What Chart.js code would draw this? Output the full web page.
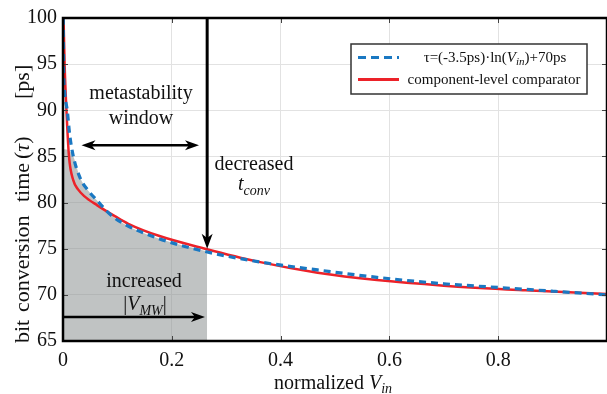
<!DOCTYPE html>
<html>
<head>
<meta charset="utf-8">
<script src="https://cdn.jsdelivr.net/npm/chart.js@4/dist/chart.umd.min.js"></script>
<style>
  html, body { margin: 0; padding: 0; background: #fff; overflow: hidden; }
  #wrap { width: 607px; height: 394px; overflow: hidden; }
</style>
</head>
<body>
<div id="wrap"><canvas id="c" width="615" height="394"></canvas></div>
<script>
// --- data (normalized Vin -> tau in ps) ---
const fitV = [0.0005, 0.001, 0.003, 0.008, 0.012, 0.019, 0.032, 0.045, 0.063, 0.087, 0.115, 0.176, 0.261, 0.358, 0.468, 0.577, 0.7, 0.8, 0.9, 1.0];
const fitT = [100, 95, 92, 89.9, 87.5, 85, 82.6, 81.4, 80.2, 78.7, 77.6, 76.1, 74.7, 73.6, 72.7, 71.9, 71.2, 70.8, 70.4, 70.0];

const compV = [0.001, 0.003, 0.0064, 0.011, 0.019, 0.028, 0.039, 0.063, 0.096, 0.12, 0.176, 0.261, 0.358, 0.468, 0.577, 0.7, 0.85, 1.0];
const compT = [100, 94.9, 89.9, 85, 82.4, 81.4, 80.7, 79.7, 78.5, 77.7, 76.4, 75.0, 73.6, 72.4, 71.6, 71.0, 70.5, 70.1];

// shaded metastability window (upper edge)
const winV = [0, 0.012, 0.019, 0.032, 0.045, 0.063, 0.087, 0.115, 0.176, 0.265];
const winT = [85.8, 85.6, 85, 82.6, 81.4, 80.2, 78.7, 77.6, 76.1, 74.7];

const xTicks = [0, 0.2, 0.4, 0.6, 0.8];
const yTicks = [65, 70, 75, 80, 85, 90, 95, 100];

// annotation anchors (data units)
const tconvArrow = { x: 0.265, from: 100, to: 75.0 };
const windowArrow = { x1: 0.034, x2: 0.250, y: 86.2 };
const mwArrow = { x1: 0, x2: 0.261, y: 67.6 };

const pts = (xs, ys) => xs.map((x, i) => ({ x, y: ys[i] }));
const SERIF = '"Liberation Serif", "Times New Roman", serif';
const BLUE = '#1a78c2', RED = '#ec2229';

// draw a line of mixed-style text runs
function runs(ctx, list, x, y, align) {
  let w = 0;
  list.forEach((r) => { ctx.font = r.f; r.w = ctx.measureText(r.t).width; w += r.w; });
  let cx = align === 'center' ? x - w / 2 : x;
  ctx.textAlign = 'left'; ctx.textBaseline = 'alphabetic';
  list.forEach((r) => { ctx.font = r.f; ctx.fillText(r.t, cx, y + (r.dy || 0)); cx += r.w; });
}
function head(ctx, x, y, ang, len, half) {
  ctx.save(); ctx.translate(x, y); ctx.rotate(ang);
  ctx.beginPath(); ctx.moveTo(0, 0); ctx.lineTo(-len, -half); ctx.lineTo(-len * 0.72, 0); ctx.lineTo(-len, half);
  ctx.closePath(); ctx.fill(); ctx.restore();
}

const decor = {
  id: 'decor',
  afterDraw(chart) {
    const { ctx, chartArea: a, scales: { x, y } } = chart;
    ctx.save();
    // inner ticks
    ctx.strokeStyle = '#444'; ctx.lineWidth = 1;
    ctx.beginPath();
    xTicks.forEach((v) => { const px = Math.round(x.getPixelForValue(v)) + 0.5;
      ctx.moveTo(px, a.bottom); ctx.lineTo(px, a.bottom - 5); ctx.moveTo(px, a.top); ctx.lineTo(px, a.top + 5); });
    yTicks.forEach((v) => { const py = Math.round(y.getPixelForValue(v)) + 0.5;
      ctx.moveTo(a.left, py); ctx.lineTo(a.left + 5, py); ctx.moveTo(a.right, py); ctx.lineTo(a.right - 5, py); });
    ctx.stroke();
    // frame
    ctx.strokeStyle = '#000'; ctx.lineWidth = 2.5;
    ctx.strokeRect(a.left, a.top, a.right - a.left, a.bottom - a.top);

    // arrows
    ctx.fillStyle = '#000'; ctx.strokeStyle = '#000';
    const vx = x.getPixelForValue(tconvArrow.x), vy1 = y.getPixelForValue(tconvArrow.from), vy2 = y.getPixelForValue(tconvArrow.to);
    ctx.lineWidth = 3;
    ctx.beginPath(); ctx.moveTo(vx, vy1); ctx.lineTo(vx, vy2 - 8); ctx.stroke();
    head(ctx, vx, vy2, Math.PI / 2, 15, 5.5);

    ctx.lineWidth = 2.5;
    const wx1 = x.getPixelForValue(windowArrow.x1), wx2 = x.getPixelForValue(windowArrow.x2), wy = y.getPixelForValue(windowArrow.y);
    ctx.beginPath(); ctx.moveTo(wx1 + 8, wy); ctx.lineTo(wx2 - 8, wy); ctx.stroke();
    head(ctx, wx2, wy, 0, 14, 5); head(ctx, wx1, wy, Math.PI, 14, 5);

    const mx1 = x.getPixelForValue(mwArrow.x1), mx2 = x.getPixelForValue(mwArrow.x2), my = y.getPixelForValue(mwArrow.y);
    ctx.beginPath(); ctx.moveTo(mx1, my); ctx.lineTo(mx2 - 8, my); ctx.stroke();
    head(ctx, mx2, my, 0, 14, 5);

    // annotation texts
    ctx.fillStyle = '#111';
    const f20 = '20px ' + SERIF, i20 = 'italic 20px ' + SERIF, i13 = 'italic 14px ' + SERIF;
    runs(ctx, [{ t: 'metastability', f: f20 }], 141, 99, 'center');
    runs(ctx, [{ t: 'window', f: f20 }], 141, 124, 'center');
    runs(ctx, [{ t: 'decreased', f: f20 }], 254, 170, 'center');
    runs(ctx, [{ t: 't', f: i20 }, { t: 'conv', f: i13, dy: 5 }], 238, 190, 'left');
    runs(ctx, [{ t: 'increased', f: f20 }], 144, 287, 'center');
    runs(ctx, [{ t: '|', f: f20 }, { t: 'V', f: i20 }, { t: 'MW', f: i13, dy: 5 }, { t: '|', f: f20 }], 145, 310, 'center');

    // axis titles
    runs(ctx, [{ t: 'normalized ', f: f20 }, { t: 'V', f: i20 }, { t: 'in', f: i13, dy: 4 }], 333, 389, 'center');
    ctx.save(); ctx.translate(29, 0); ctx.rotate(-Math.PI / 2);
    const f22 = '22px ' + SERIF, i22 = 'italic 22px ' + SERIF;
    // words placed along the axis with the wide spacing seen in the reference
    runs(ctx, [{ t: 'bit', f: f22 }], -343, 0, 'left');
    runs(ctx, [{ t: 'conversion', f: f22 }], -312, 0, 'left');
    runs(ctx, [{ t: 'time', f: f22 }], -202, 0, 'left');
    runs(ctx, [{ t: '(', f: f22 }, { t: 'τ', f: i22 }, { t: ')', f: f22 }], -159, 0, 'left');
    runs(ctx, [{ t: '[ps]', f: f22 }], -99, 0, 'left');
    ctx.restore();

    // legend
    ctx.fillStyle = '#fff'; ctx.fillRect(351, 44, 236, 50);
    ctx.strokeStyle = '#333'; ctx.lineWidth = 1.5; ctx.strokeRect(351, 44, 236, 50);
    ctx.lineWidth = 3; ctx.strokeStyle = BLUE; ctx.setLineDash([8, 5]);
    ctx.beginPath(); ctx.moveTo(358, 57.5); ctx.lineTo(399, 57.5); ctx.stroke();
    ctx.setLineDash([]); ctx.strokeStyle = RED;
    ctx.beginPath(); ctx.moveTo(358, 79.5); ctx.lineTo(399, 79.5); ctx.stroke();
    ctx.fillStyle = '#111';
    const f15 = '15px ' + SERIF, i15 = 'italic 15px ' + SERIF, i11 = 'italic 11px ' + SERIF;
    runs(ctx, [{ t: 'τ=(-3.5ps)·ln(', f: f15 }, { t: 'V', f: i15 }, { t: 'in', f: i11, dy: 3 }, { t: ')+70ps', f: f15 }], 495, 62, 'center');
    runs(ctx, [{ t: 'component-level comparator', f: f15 }], 494, 84, 'center');
    ctx.restore();
  },
};

new Chart(document.getElementById('c'), {
  type: 'scatter',
  data: {
    datasets: [
      { label: 'fit', data: pts(fitV, fitT), showLine: true, borderColor: BLUE, borderWidth: 3.2, borderDash: [7, 5],
        pointRadius: 0, cubicInterpolationMode: 'monotone', fill: false },
      { label: 'comparator', data: pts(compV, compT), showLine: true, borderColor: RED, borderWidth: 2.5,
        pointRadius: 0, cubicInterpolationMode: 'monotone', fill: false },
      { label: 'window', data: pts(winV, winT), showLine: true, borderWidth: 0, borderColor: 'rgba(0,0,0,0)',
        backgroundColor: 'rgba(140,145,145,0.55)', pointRadius: 0, cubicInterpolationMode: 'monotone', fill: 'start' },
    ],
  },
  options: {
    responsive: false, animation: false, devicePixelRatio: 1,
    layout: { padding: { top: 12, right: 3, left: 0, bottom: 0 } },
    plugins: { legend: { display: false }, tooltip: { enabled: false } },
    scales: {
      x: { type: 'linear', min: 0, max: 1,
        ticks: { stepSize: 0.2, padding: 8, color: '#111', font: { family: SERIF, size: 20 }, maxRotation: 0,
          callback: (v) => (v >= 1 ? '' : String(Math.round(v * 10) / 10)) },
        grid: { color: '#e2e2e2', lineWidth: 1, drawTicks: false }, border: { display: false },
        afterFit: (s) => { s.height = 53; } },
      y: { min: 65, max: 100,
        ticks: { stepSize: 5, padding: 6, color: '#111', font: { family: SERIF, size: 20 } },
        grid: { color: '#e2e2e2', lineWidth: 1, drawTicks: false }, border: { display: false },
        afterFit: (s) => { s.width = 63; } },
    },
  },
  plugins: [decor],
});
</script>
</body>
</html>
